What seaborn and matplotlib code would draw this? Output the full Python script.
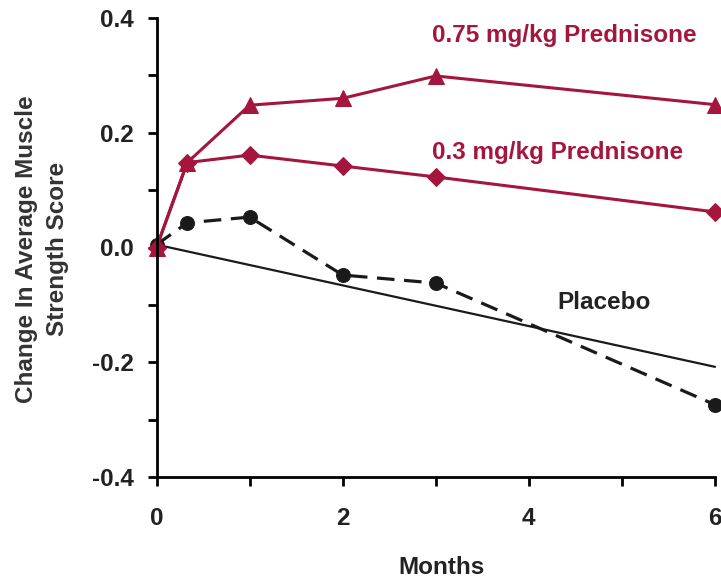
import matplotlib
matplotlib.use("Agg")
import matplotlib.pyplot as plt
import seaborn as sns
import pandas as pd

months = [0, 0.33, 1, 2, 3, 6]
high_dose = [0.0, 0.148, 0.248, 0.26, 0.299, 0.249]
low_dose = [0.0, 0.148, 0.161, 0.142, 0.123, 0.062]
placebo = [0.005, 0.043, 0.053, -0.048, -0.062, -0.274]
trend_x = [0, 6]
trend_y = [0.005, -0.208]
x_ticks = [0, 1, 2, 3, 4, 5, 6]
x_labels = ['0', '', '2', '', '4', '', '6']
y_ticks = [-0.4, -0.3, -0.2, -0.1, 0.0, 0.1, 0.2, 0.3, 0.4]
y_labels = ['-0.4', '', '-0.2', '', '0.0', '', '0.2', '', '0.4']

sns.set_theme(style="white")
plt.rcParams['font.family'] = ['Liberation Sans', 'DejaVu Sans']
plt.rcParams['font.weight'] = 'bold'

red = '#A5163F'
dark = '#1a1a1a'
fs = 17.5
fig = plt.figure(figsize=(7.21, 5.8), dpi=100)
ax = fig.add_axes([156.5 / 721, 1 - 477 / 580, 558.5 / 721, 459 / 580])

df_hi = pd.DataFrame({'Months': months, 'v': high_dose})
df_lo = pd.DataFrame({'Months': months, 'v': low_dose})
df_pl = pd.DataFrame({'Months': months, 'v': placebo})
df_tr = pd.DataFrame({'Months': trend_x, 'v': trend_y})

sns.lineplot(data=df_tr, x='Months', y='v', ax=ax, color=dark, lw=1.6)
sns.lineplot(data=df_pl, x='Months', y='v', ax=ax, color=dark, lw=2.3,
             marker='o', markersize=10, markeredgecolor=dark,
             linestyle=(0, (5.5, 3)))
sns.lineplot(data=df_lo, x='Months', y='v', ax=ax, color=red, lw=2.2,
             marker='D', markersize=9, markeredgecolor=red)
sns.lineplot(data=df_hi, x='Months', y='v', ax=ax, color=red, lw=2.2,
             marker='^', markersize=11.5, markeredgecolor=red)

for l in ax.lines:
    l.set_clip_on(False)

ax.set_xlim(0, 6)
ax.set_ylim(-0.4, 0.4)
ax.set_xticks(x_ticks)
ax.set_xticklabels(x_labels)
ax.set_yticks(y_ticks)
ax.set_yticklabels(y_labels)
ax.tick_params(axis='both', direction='out', length=6.5, width=2, color='black',
               labelsize=fs, left=True, bottom=True, labelcolor='#222222')
ax.tick_params(axis='y', pad=10)
ax.tick_params(axis='x', pad=15)
for s in ['top', 'right']:
    ax.spines[s].set_visible(False)
for s in ['left', 'bottom']:
    ax.spines[s].set_color('black')
    ax.spines[s].set_linewidth(2)

ax.set_xlabel('Months', fontsize=fs, fontweight='bold', color='#222222')
ax.xaxis.set_label_coords(0.51, -0.172)
ax.set_ylabel('')
fig.text(42 / 721, 1 - 249 / 580, 'Change In Average Muscle\nStrength Score',
         fontsize=fs, fontweight='bold', color='#333333', rotation=90,
         ha='center', va='center', multialignment='center', linespacing=1.4)

ax.text(2.96, 0.370, '0.75 mg/kg Prednisone', color=red, fontsize=fs,
        fontweight='bold', va='center', ha='left')
ax.text(2.96, 0.166, '0.3 mg/kg Prednisone', color=red, fontsize=fs,
        fontweight='bold', va='center', ha='left')
ax.text(4.31, -0.095, 'Placebo', color='#222222', fontsize=fs,
        fontweight='bold', va='center', ha='left')

fig.savefig('out.png', dpi=100)
